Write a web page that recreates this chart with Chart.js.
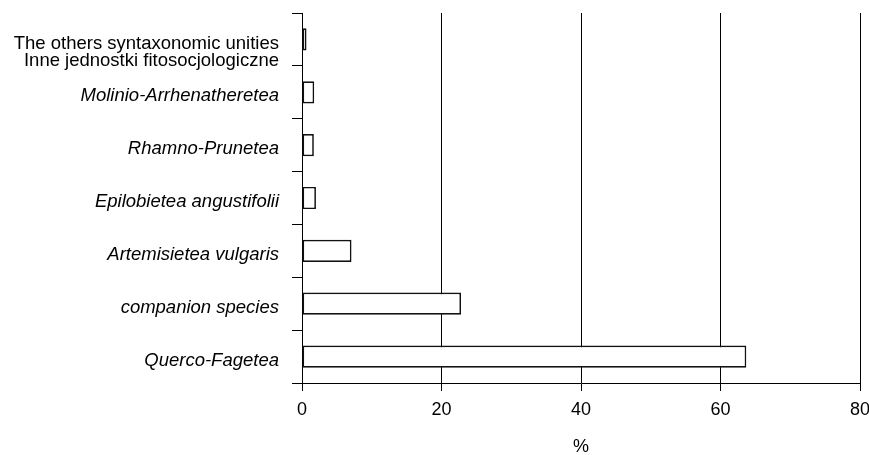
<!DOCTYPE html>
<html><head><meta charset="utf-8">
<script src="https://cdn.jsdelivr.net/npm/chart.js@4.4.1/dist/chart.umd.min.js"></script>
<style>html,body{margin:0;padding:0;background:#fff;}</style>
</head><body>
<canvas id="c" width="869" height="455"></canvas>
<script>
const categories = [
  ["", "The others syntaxonomic unities", "Inne jednostki fitosocjologiczne"],
  "Molinio-Arrhenatheretea",
  "Rhamno-Prunetea",
  "Epilobietea angustifolii",
  "Artemisietea vulgaris",
  "companion species",
  "Querco-Fagetea"
];
const values = [0.65, 1.75, 1.7, 2.0, 7.1, 22.8, 63.7];
const xMin = 0, xMax = 80, xStep = 20;
const axisTitle = "%";

const FONT = "'Liberation Sans', Arial, sans-serif";

new Chart(document.getElementById('c'), {
  type: 'bar',
  data: {
    labels: categories,
    datasets: [{
      data: values,
      backgroundColor: '#ffffff',
      borderColor: '#111111',
      borderWidth: 1.7,
      borderSkipped: false,
      barPercentage: 0.42,
      categoryPercentage: 1.0
    }]
  },
  options: {
    indexAxis: 'y',
    responsive: false,
    devicePixelRatio: 1,
    animation: false,
    layout: { padding: { top: 13, right: 9, left: 0, bottom: 0 } },
    plugins: { legend: { display: false }, tooltip: { enabled: false } },
    scales: {
      x: {
        min: xMin, max: xMax,
        ticks: { stepSize: xStep, color: '#000', padding: 8, font: { family: FONT, size: 18 } },
        grid: { color: '#000', lineWidth: 1, tickLength: 8, tickColor: '#000' },
        border: { color: '#000', width: 1 },
        title: { display: true, text: axisTitle, color: '#000', padding: 0,
                 font: { family: FONT, size: 18, lineHeight: 0.9 } },
        afterFit: (s) => { s.height = 72; s.paddingRight = 9; s.paddingLeft = 0; }
      },
      y: {
        ticks: {
          color: '#000', padding: 13, autoSkip: false, labelOffset: 4,
          font: (c) => ({ family: FONT, size: 18.5, lineHeight: 0.95,
                          style: c.index === 0 ? 'normal' : 'italic' })
        },
        grid: { drawOnChartArea: false, drawTicks: true, tickLength: 10, tickColor: '#000', offset: true },
        border: { color: '#000', width: 1 },
        afterFit: (s) => { s.width = 302; s.paddingTop = 0; s.paddingBottom = 0; }
      }
    }
  }
});
</script>
</body></html>
